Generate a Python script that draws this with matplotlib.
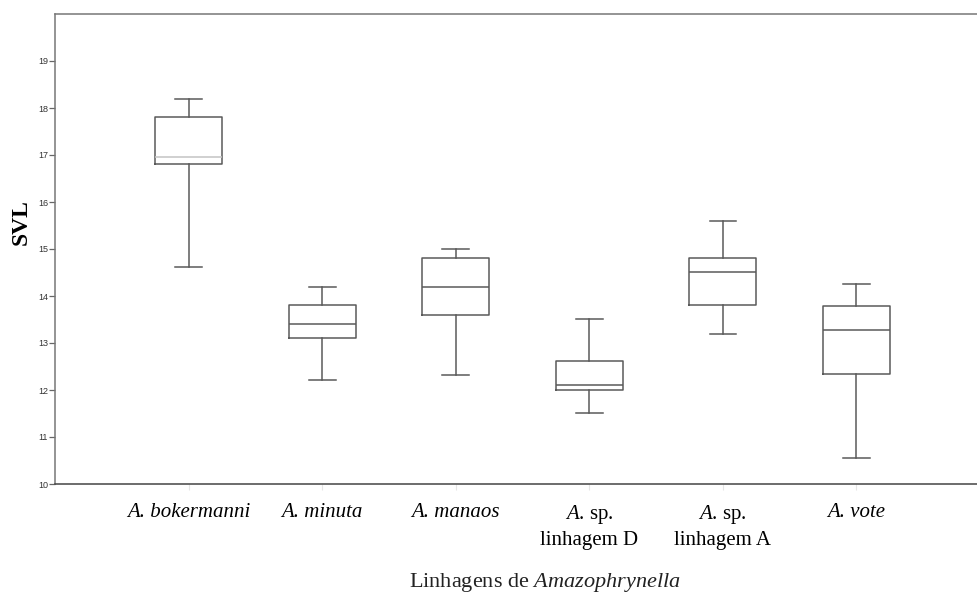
import matplotlib.pyplot as plt

plt.rcParams['mathtext.fontset'] = 'custom'
plt.rcParams['mathtext.rm'] = 'Liberation Serif'
plt.rcParams['mathtext.it'] = 'Liberation Serif:italic'

# lineages and box statistics (SVL, mm)
labels = ['A. bokermanni', 'A. minuta', 'A. manaos',
          '$\\it{A}$. sp.\nlinhagem D', '$\\it{A}$. sp.\nlinhagem A', 'A. vote']
whis_lo = [14.62, 12.21, 12.31, 11.52, 13.20, 10.55]
q1 = [16.81, 13.11, 13.60, 12.01, 13.81, 12.35]
median = [16.95, 13.41, 14.20, 12.11, 14.51, 13.28]
q3 = [17.80, 13.80, 14.81, 12.61, 14.81, 13.78]
whis_hi = [18.20, 14.20, 15.01, 13.51, 15.60, 14.26]
y_ticks = [10, 11, 12, 13, 14, 15, 16, 17, 18, 19]

line_col = '#5a5a5a'

fig = plt.figure(figsize=(9.78, 6.01), dpi=100)
ax = fig.add_axes([55 / 978, 1 - 484 / 601, 923 / 978, 470 / 601])

stats = [dict(whislo=lo, q1=a, med=m, q3=b, whishi=hi, fliers=[])
         for lo, a, m, b, hi in zip(whis_lo, q1, median, q3, whis_hi)]
positions = list(range(1, len(stats) + 1))
parts = ax.bxp(stats, positions=positions, widths=0.5, showfliers=False,
               boxprops=dict(color=line_col, linewidth=1.1),
               whiskerprops=dict(color=line_col, linewidth=1.1),
               capprops=dict(color=line_col, linewidth=1.1),
               medianprops=dict(color=line_col, linewidth=1.1),
               capwidths=0.2)
parts['medians'][0].set_color('#c4c4c4')

ax.set_xlim(0, 6.91)
ax.set_ylim(10, 20)
ax.set_yticks(y_ticks)
ax.set_yticklabels([str(t) for t in y_ticks], fontsize=6.5, color='#333333',
                   family='Liberation Sans')
ax.tick_params(axis='y', direction='out', length=4, width=0.9, color='#666666', pad=1)

ax.set_xticks(positions)
ax.set_xticklabels(labels, fontsize=15, family='Liberation Serif', linespacing=1.3,
                   va='top')
for i in [0, 1, 2, 5]:
    ax.get_xticklabels()[i].set_style('italic')
ax.tick_params(axis='x', direction='out', length=4, width=0.8, color='#e6e6e6', pad=10)

for side in ['left', 'top']:
    ax.spines[side].set_color('#777777')
    ax.spines[side].set_linewidth(1.1)
ax.spines['bottom'].set_color('#444444')
ax.spines['bottom'].set_linewidth(1.1)
ax.spines['right'].set_visible(False)

fig.text(21 / 978, 1 - 222 / 601, 'SVL', rotation=90, fontsize=17, fontweight='bold',
         family='Liberation Serif', ha='center', va='center')
fig.text(545 / 978, 1 - 583 / 601, r'Linhagens de $\it{Amazophrynella}$', fontsize=16,
         family='Liberation Serif', ha='center', va='center', color='#222222')

plt.savefig('out.png', dpi=100)
plt.close()
